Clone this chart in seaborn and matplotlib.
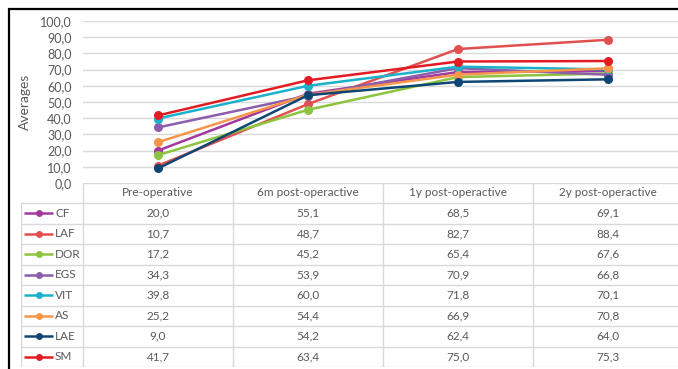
import matplotlib
matplotlib.use("Agg")
import matplotlib.pyplot as plt
import pandas as pd
import seaborn as sns

# Mean scores per measure at each follow-up time point
periods = ["Pre-operative", "6m post-operactive", "1y post-operactive", "2y post-operactive"]
measures = ["CF", "LAF", "DOR", "EGS", "VIT", "AS", "LAE", "SM"]
cf = [20.0, 55.1, 68.5, 69.1]
laf = [10.7, 48.7, 82.7, 88.4]
dor = [17.2, 45.2, 65.4, 67.6]
egs = [34.3, 53.9, 70.9, 66.8]
vit = [39.8, 60.0, 71.8, 70.1]
as_ = [25.2, 54.4, 66.9, 70.8]
lae = [9.0, 54.2, 62.4, 64.0]
sm = [41.7, 63.4, 75.0, 75.3]
series = [cf, laf, dor, egs, vit, as_, lae, sm]
colors = ["#A1399E", "#E0504F", "#8CC43F", "#8B5DAA", "#1BB1CB", "#F7964A", "#0E4673", "#E31B23"]
y_ticks = [0, 10, 20, 30, 40, 50, 60, 70, 80, 90, 100]

rows = []
for name, vals in zip(measures, series):
    for p, v in zip(periods, vals):
        rows.append({"period": p, "measure": name, "value": v})
df = pd.DataFrame(rows)

sns.set_theme(style="white")
plt.rcParams["font.family"] = ["Lato", "DejaVu Sans"]

W, H = 678, 369
fig = plt.figure(figsize=(W / 100, H / 100), dpi=100)
fig.patch.set_facecolor("white")


def fx(px):
    return px / W


def fy(py):
    return 1 - py / H


text_col = "#595959"
grid_col = "#D9D9D9"

# Line chart area
x0, x1, ytop, ybot = 83, 683, 21, 183
ax = fig.add_axes([fx(x0), fy(ybot), fx(x1) - fx(x0), fy(ytop) - fy(ybot)])
sns.lineplot(data=df, x="period", y="value", hue="measure", hue_order=measures,
             palette=colors, marker="o", markersize=6.5, markeredgewidth=0,
             linewidth=1.8, sort=False, legend=False, ax=ax)
ax.set_xlim(-0.5, 3.5)
ax.set_ylim(0, 100)
ax.set_yticks(y_ticks)
ax.set_yticklabels([f"{t:.1f}".replace(".", ",") for t in y_ticks],
                   color=text_col, fontsize=9)
ax.tick_params(axis="y", length=0, pad=8)
ax.set_xticks([])
ax.set_xlabel("")
ax.set_ylabel("")
for t in y_ticks[1:]:
    ax.axhline(t, color=grid_col, lw=1, zorder=0)
for s in ax.spines.values():
    s.set_visible(False)
ax.patch.set_alpha(0)
fig.text(fx(25), fy(102), "Averages", rotation=90, ha="center", va="center",
         color=text_col, fontsize=10)

# Data table under the chart
tx0, ty0, ty1 = 21, 183, 367
tab = fig.add_axes([fx(tx0), fy(ty1), fx(x1) - fx(tx0), fy(ty0) - fy(ty1)])
tab.set_xlim(tx0, x1)
tab.set_ylim(ty1, ty0)
tab.axis("off")

col_edges = [83, 233, 383, 533, 683]
header_bottom = 203
row_h = (ty1 - header_bottom) / len(measures)
row_edges = [header_bottom + i * row_h for i in range(len(measures) + 1)]

lw = 1.0
tab.plot([83, x1], [ty0, ty0], color=grid_col, lw=lw)
for xe in col_edges:
    tab.plot([xe, xe], [ty0, ty1], color=grid_col, lw=lw)
tab.plot([tx0, tx0], [header_bottom, ty1], color=grid_col, lw=lw)
for ye in row_edges:
    tab.plot([tx0, x1], [ye, ye], color=grid_col, lw=lw)

for j, p in enumerate(periods):
    cx = (col_edges[j] + col_edges[j + 1]) / 2
    tab.text(cx, (ty0 + header_bottom) / 2, p, ha="center", va="center",
             color=text_col, fontsize=8.5)

for i, (name, vals, c) in enumerate(zip(measures, series, colors)):
    cy = (row_edges[i] + row_edges[i + 1]) / 2
    tab.plot([24, 53], [cy, cy], color=c, lw=1.8, solid_capstyle="butt")
    tab.plot([38.5], [cy], marker="o", color=c, markersize=5, markeredgewidth=0)
    tab.text(55, cy, name, ha="left", va="center", color=text_col, fontsize=8.5)
    for j, v in enumerate(vals):
        cx = (col_edges[j] + col_edges[j + 1]) / 2
        tab.text(cx, cy, f"{v:.1f}".replace(".", ","), ha="center", va="center",
                 color=text_col, fontsize=8.5)

# Chart frame
frame = plt.Rectangle((fx(9), fy(380)), fx(700) - fx(9), fy(9) - fy(380),
                      transform=fig.transFigure, fill=False, edgecolor="black",
                      lw=1.6, zorder=10)
fig.patches.append(frame)

fig.savefig("out.png", dpi=100, facecolor="white")
